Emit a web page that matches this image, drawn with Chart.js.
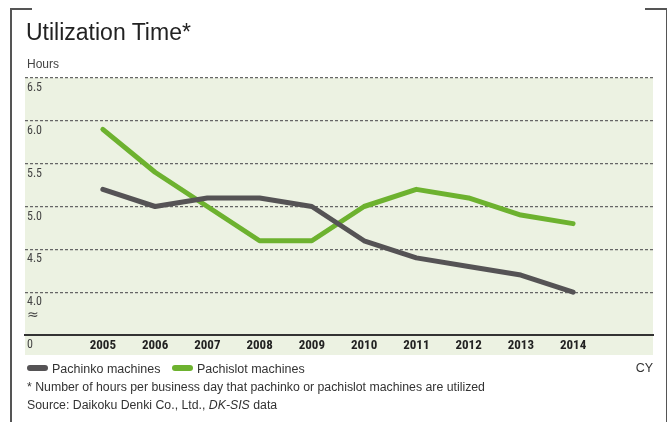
<!DOCTYPE html>
<html>
<head>
<meta charset="utf-8">
<script src="https://cdn.jsdelivr.net/npm/chart.js@4/dist/chart.umd.min.js"></script>
<style>
  html, body { margin: 0; padding: 0; background: #fff; }
  body { width: 672px; height: 422px; position: relative; overflow: hidden;
         font-family: "Liberation Sans", Arial, sans-serif; color: #333; }
  #wrap { position: absolute; left: 0; top: 0; width: 672px; height: 422px; }
  .frame { position: absolute; background: #555; }
  .title { position: absolute; left: 26px; top: 19px; font-size: 23px; color: #222;
           font-family: "Liberation Sans", Arial, sans-serif; }
  .unit { position: absolute; left: 27px; top: 57px; font-size: 12px; color: #444; }
  .legend { position: absolute; top: 362px; font-size: 12.5px; color: #333; white-space: nowrap; }
  .legend span.sw { display: inline-block; width: 21px; height: 6px; border-radius: 3px;
                    vertical-align: 2px; margin-right: 4px; }
  .cy { position: absolute; right: 19px; top: 361px; font-size: 12.5px; color: #333; }
  .note { position: absolute; left: 27px; font-size: 12.3px; color: #333; white-space: nowrap; }
</style>
</head>
<body>
<div id="wrap"><canvas id="chart"></canvas></div>

<div class="frame" style="left:10px; top:8px; width:1.5px; height:414px;"></div>
<div class="frame" style="left:10px; top:8px; width:22px; height:1.5px;"></div>
<div class="frame" style="left:665.5px; top:8px; width:1.5px; height:414px;"></div>
<div class="frame" style="left:645px; top:8px; width:22px; height:1.5px;"></div>

<div class="title">Utilization Time*</div>
<div class="unit">Hours</div>

<div class="legend" style="left:27px;"><span class="sw" style="background:#555355;"></span>Pachinko machines</div>
<div class="legend" style="left:172px;"><span class="sw" style="background:#6db22f;"></span>Pachislot machines</div>
<div class="cy">CY</div>
<div class="note" style="top:380px;">* Number of hours per business day that pachinko or pachislot machines are utilized</div>
<div class="note" style="top:398px;">Source: Daikoku Denki Co., Ltd., <i>DK-SIS</i> data</div>

<script>
// calendar years and hours per business day
const years = [2005, 2006, 2007, 2008, 2009, 2010, 2011, 2012, 2013, 2014];
const pachinko = [5.2, 5.0, 5.1, 5.1, 5.0, 4.6, 4.4, 4.3, 4.2, 4.0];
const pachislot = [5.9, 5.4, 5.0, 4.6, 4.6, 5.0, 5.2, 5.1, 4.9, 4.8];
const yTicks = [3.5, 4.0, 4.5, 5.0, 5.5, 6.0, 6.5];

const toPoints = (vals) => vals.map((v, i) => ({ x: years[i], y: v }));

// pale green panel, runs down under the year row
const panelBg = {
    id: 'panelBg',
    beforeDraw(chart) {
        const { ctx, chartArea: a } = chart;
        ctx.save();
        ctx.fillStyle = '#ecf2e2';
        ctx.fillRect(a.left, a.top, a.right - a.left, a.bottom - a.top + 20);
        ctx.restore();
    }
};

// "≈" break sign under the 4.0 label
const axisBreak = {
    id: 'axisBreak',
    afterDraw(chart) {
        const { ctx, chartArea: a, scales } = chart;
        const y = scales.y.getPixelForValue(4.0) + 23;
        ctx.save();
        ctx.font = '14px "DejaVu Sans", sans-serif';
        ctx.fillStyle = '#444';
        ctx.textBaseline = 'middle';
        ctx.fillText('\u2248', a.left + 2, y);
        ctx.restore();
    }
};

const condensed = '"Liberation Sans Narrow", "Arial Narrow", "Roboto Condensed", sans-serif';

new Chart(document.getElementById('chart'), {
    type: 'line',
    data: {
        datasets: [
            {
                label: 'Pachinko machines',
                data: toPoints(pachinko),
                borderColor: '#555355',
                borderWidth: 5,
                pointRadius: 0,
                borderCapStyle: 'round',
                borderJoinStyle: 'round',
                tension: 0
            },
            {
                label: 'Pachislot machines',
                data: toPoints(pachislot),
                borderColor: '#6db22f',
                borderWidth: 5,
                pointRadius: 0,
                borderCapStyle: 'round',
                borderJoinStyle: 'round',
                tension: 0
            }
        ]
    },
    options: {
        responsive: true,
        maintainAspectRatio: false,
        animation: false,
        layout: { padding: { left: 25, right: 19, top: 78, bottom: 67 } },
        plugins: {
            legend: { display: false },
            tooltip: { enabled: false }
        },
        scales: {
            x: {
                type: 'linear',
                min: 2003.51,
                max: 2015.53,
                afterFit: (s) => { s.height = 20; },
                afterBuildTicks: (s) => { s.ticks = years.map(v => ({ value: v })); },
                grid: { display: false, drawTicks: false },
                border: { display: true, color: '#333', width: 2 },
                ticks: {
                    padding: 3,
                    color: '#222',
                    font: { family: condensed, size: 13, weight: 'bold' },
                    callback: (v) => String(v)
                }
            },
            y: {
                min: 3.5,
                max: 6.5,
                afterFit: (s) => { s.width = 0; },
                afterBuildTicks: (s) => { s.ticks = yTicks.map(v => ({ value: v })); },
                grid: {
                    drawTicks: false,
                    color: (c) => c.tick && c.tick.value === 3.5 ? 'rgba(0,0,0,0)' : '#666',
                    lineWidth: 1.3
                },
                border: { display: false, dash: [3, 2] },
                ticks: {
                    mirror: true,
                    padding: 2,
                    labelOffset: 10,
                    color: '#444',
                    font: { family: condensed, size: 12 },
                    callback: (v) => v === 3.5 ? '0' : v.toFixed(1)
                }
            }
        }
    },
    plugins: [panelBg, axisBreak]
});
</script>
</body>
</html>
